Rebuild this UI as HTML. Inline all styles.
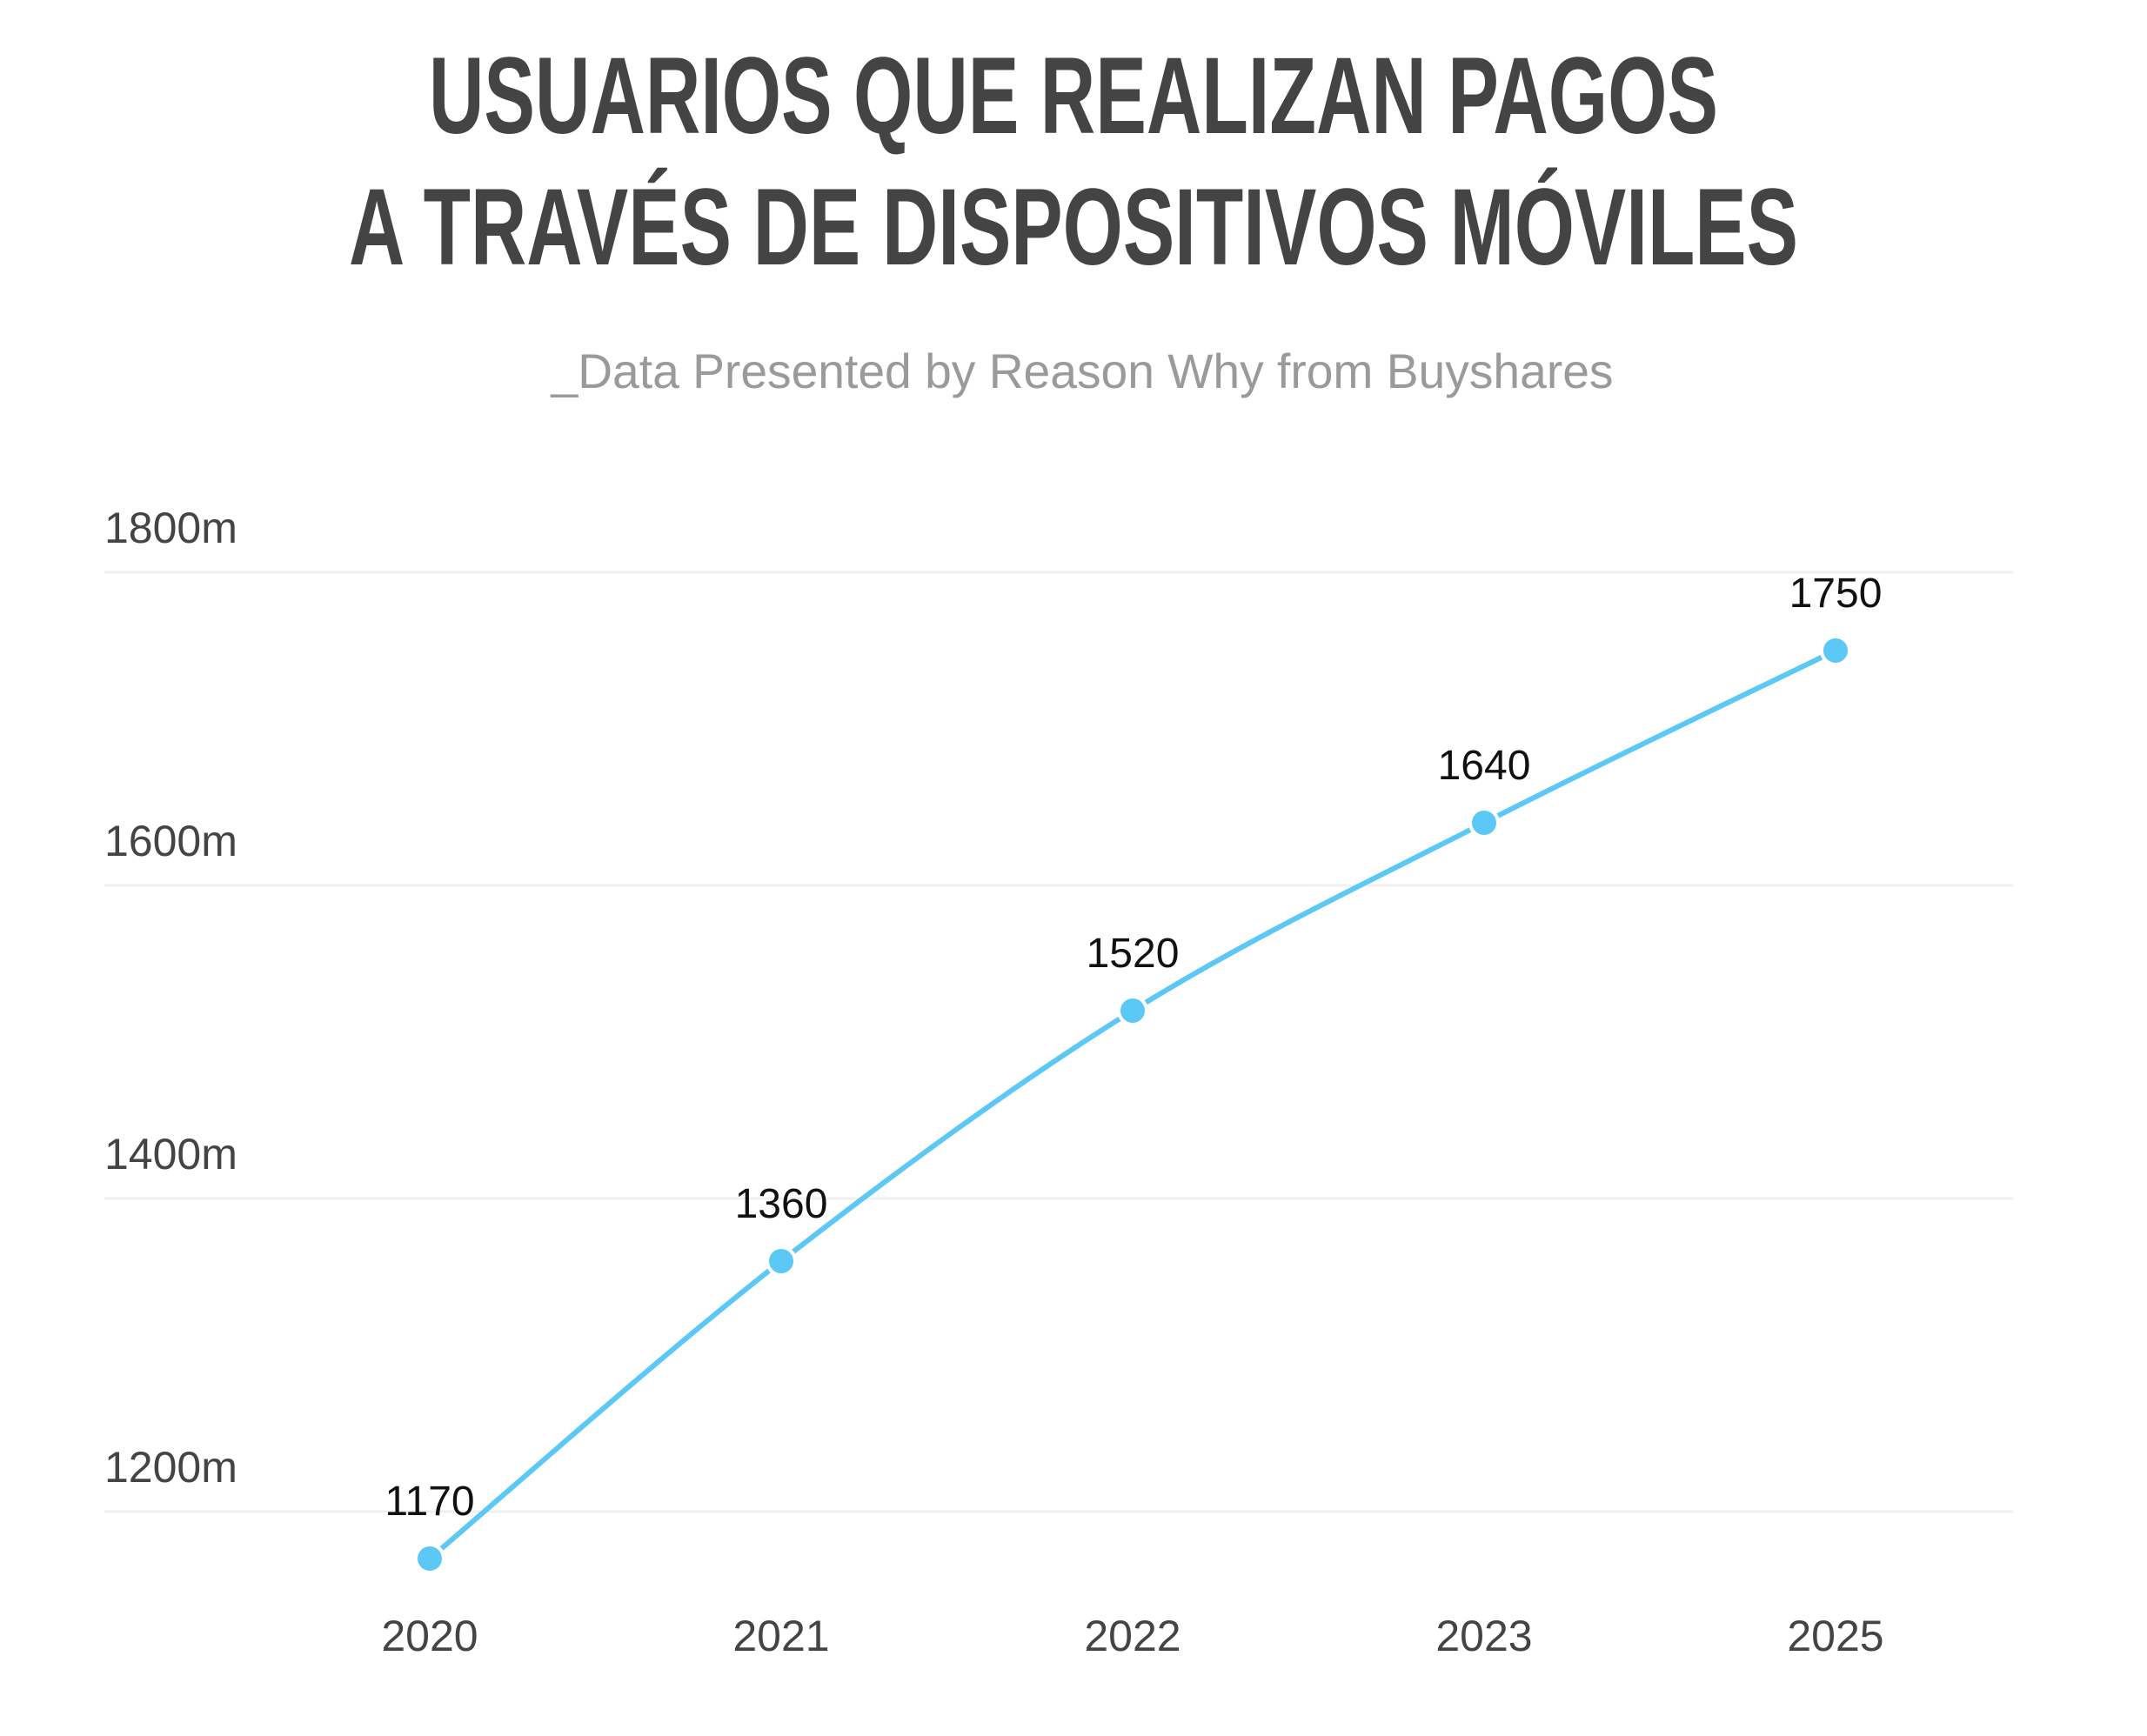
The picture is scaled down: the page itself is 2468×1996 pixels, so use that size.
<!DOCTYPE html>
<html><head><meta charset="utf-8"><style>
html,body{margin:0;padding:0;background:#fff;}
svg{display:block;}
</style></head><body>
<svg id="chart" width="2468" height="1996" viewBox="0 0 2468 1996" xmlns="http://www.w3.org/2000/svg">
<text x="1234" y="153" text-anchor="middle" font-family="Liberation Sans, sans-serif" font-weight="bold" font-size="125" fill="#444" textLength="1482" lengthAdjust="spacingAndGlyphs">USUARIOS QUE REALIZAN PAGOS</text>
<text x="1234" y="304" text-anchor="middle" font-family="Liberation Sans, sans-serif" font-weight="bold" font-size="125" fill="#444" textLength="1666" lengthAdjust="spacingAndGlyphs">A TRAVÉS DE DISPOSITIVOS MÓVILES</text>
<text x="1244" y="446" text-anchor="middle" font-family="Liberation Sans, sans-serif" font-size="56" fill="#9a9a9a" textLength="1221" lengthAdjust="spacingAndGlyphs">_Data Presented by Reason Why from Buyshares</text>
<g id="grid"></g><g id="xaxis"></g><g id="series"></g>
</svg>
<script>
const categories = ["2020","2021","2022","2023","2025"];
const values = [1170,1360,1520,1640,1750];
const yTicks = [1200,1400,1600,1800];
const yTickLabels = ["1200m","1400m","1600m","1800m"];
const NS="http://www.w3.org/2000/svg";
function y(v){return 1738-(v-1200)*1.8;}
function x(i){return 494+i*404;}
function mk(t,a,p){const e=document.createElementNS(NS,t);for(const k in a)e.setAttribute(k,a[k]);p.appendChild(e);return e;}
const grid=document.getElementById('grid'),xa=document.getElementById('xaxis'),s=document.getElementById('series');
yTicks.forEach((v,i)=>{
 const l=mk('line',{x1:120,x2:2314,y1:y(v),y2:y(v),stroke:'#f0f0f0','stroke-width':3},grid);
 
 
 const t=mk('text',{x:120,y:y(v)-34,'font-family':'Liberation Sans, sans-serif','font-size':50,fill:'#444'},grid);
 t.textContent=yTickLabels[i];
 
 
});
categories.forEach((c,i)=>{
 const t=mk('text',{x:x(i),y:1898,'text-anchor':'middle','font-family':'Liberation Sans, sans-serif','font-size':50,fill:'#444'},xa);
 t.textContent=c;
 
 
});
const pts=values.map((v,i)=>[x(i),y(v)]);
let d='M'+pts[0][0]+','+pts[0][1];
for(let i=0;i<pts.length-1;i++){
 const p0=pts[Math.max(0,i-1)],p1=pts[i],p2=pts[i+1],p3=pts[Math.min(pts.length-1,i+2)];
 const c1=[p1[0]+(p2[0]-p0[0])/6,p1[1]+(p2[1]-p0[1])/6];
 const c2=[p2[0]-(p3[0]-p1[0])/6,p2[1]-(p3[1]-p1[1])/6];
 d+=' C'+c1+' '+c2+' '+p2;
}
const path=mk('path',{d:d,fill:'none',stroke:'#5bc8f5','stroke-width':6},s);


values.forEach((v,i)=>{
 const c=mk('circle',{cx:x(i),cy:y(v),r:16,fill:'#5bc8f5',stroke:'#fff','stroke-width':4},s);
 
 
 const t=mk('text',{x:x(i),y:y(v)-50,'text-anchor':'middle','font-family':'Liberation Sans, sans-serif','font-size':48,fill:'#111'},s);
 t.textContent=String(v);
 
 
});
</script>
</body></html>
